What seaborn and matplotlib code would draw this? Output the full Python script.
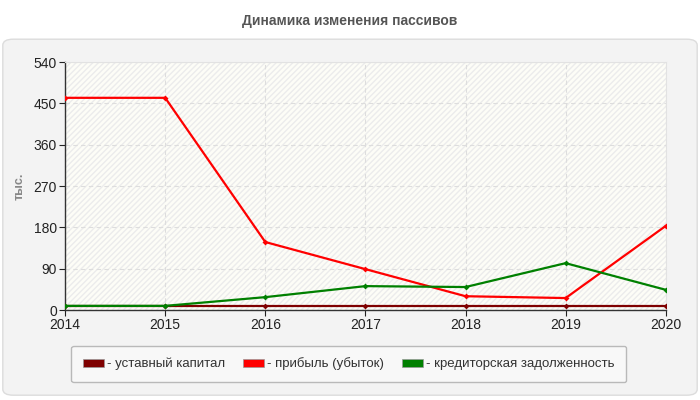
import pandas as pd
import matplotlib.pyplot as plt
import seaborn as sns
from matplotlib.patches import FancyBboxPatch, Rectangle, Patch

years = [2014, 2015, 2016, 2017, 2018, 2019, 2020]
capital = [9, 9, 9, 9, 9, 9, 9]
profit = [462, 462, 148, 89, 30, 26, 183]
payables = [9, 9, 28, 52, 50, 102, 44]

names = ["уставный капитал", "прибыль (убыток)", "кредиторская задолженность"]
colors = ["#7f0000", "#ff0000", "#008000"]

df = pd.DataFrame({
    "year": years * 3,
    "value": capital + profit + payables,
    "series": [names[0]] * 7 + [names[1]] * 7 + [names[2]] * 7,
})

sns.set_style("white")
plt.rcParams["font.family"] = ["Liberation Sans", "DejaVu Sans"]

fig = plt.figure(figsize=(7, 4), dpi=100)
fig.patch.set_facecolor("white")

# outer grey panel
panel = FancyBboxPatch((0.004, 0.012), 0.992, 0.89,
                       boxstyle="round,pad=0,rounding_size=0.015",
                       transform=fig.transFigure, facecolor="#f3f3f3",
                       edgecolor="#dcdcdc", linewidth=1, zorder=-5)
fig.patches.append(panel)

fig.text(0.5, 0.948, "Динамика изменения пассивов", ha="center", va="center",
         fontsize=10, fontweight="bold", color="#555555")

ax = fig.add_axes([0.093, 0.225, 0.858, 0.62])
ax.set_zorder(2)
ax.set_facecolor("#fdfdf7")
ax.add_patch(Rectangle((0, 0), 1, 1, transform=ax.transAxes, facecolor="none",
                       edgecolor="#ececec", hatch="//////", linewidth=0, zorder=0))

sns.lineplot(data=df, x="year", y="value", hue="series", palette=colors,
             marker="D", markersize=3, markeredgewidth=0, linewidth=1.6,
             legend=False, ax=ax, zorder=3)

ax.set_xlim(2014, 2020)
ax.set_ylim(0, 540)
ax.set_xticks(years)
ax.set_yticks(range(0, 541, 90))
ax.tick_params(axis="both", labelsize=10, colors="#222222", length=4,
               direction="out", bottom=True, left=True, pad=2)
ax.set_xlabel("")
ax.set_ylabel("тыс.", fontsize=9, fontweight="bold", color="#888888")
ax.yaxis.set_label_coords(-0.066, 0.5)
ax.grid(True, linestyle=(0, (4, 3)), color="#dddddd", linewidth=0.8)

for s in ["top", "right"]:
    ax.spines[s].set_color("#e2e2e2")
    ax.spines[s].set_linewidth(0.8)
for s in ["left", "bottom"]:
    ax.spines[s].set_color("#333333")
    ax.spines[s].set_linewidth(1)

handles = [Patch(facecolor=c, edgecolor="#999999", linewidth=0.5) for c in colors]
leg = fig.legend(handles, ["- " + n for n in names], loc="center",
                 bbox_to_anchor=(0.498, 0.09), ncol=3, fontsize=9.5,
                 frameon=True, fancybox=True, handlelength=1.6, handleheight=0.6,
                 handletextpad=0.2, columnspacing=1.4, borderpad=0.9)
leg.get_frame().set_facecolor("#fafafa")
leg.get_frame().set_edgecolor("#aaaaaa")
for t in leg.get_texts():
    t.set_color("#333333")

fig.savefig("out.png", dpi=100)
